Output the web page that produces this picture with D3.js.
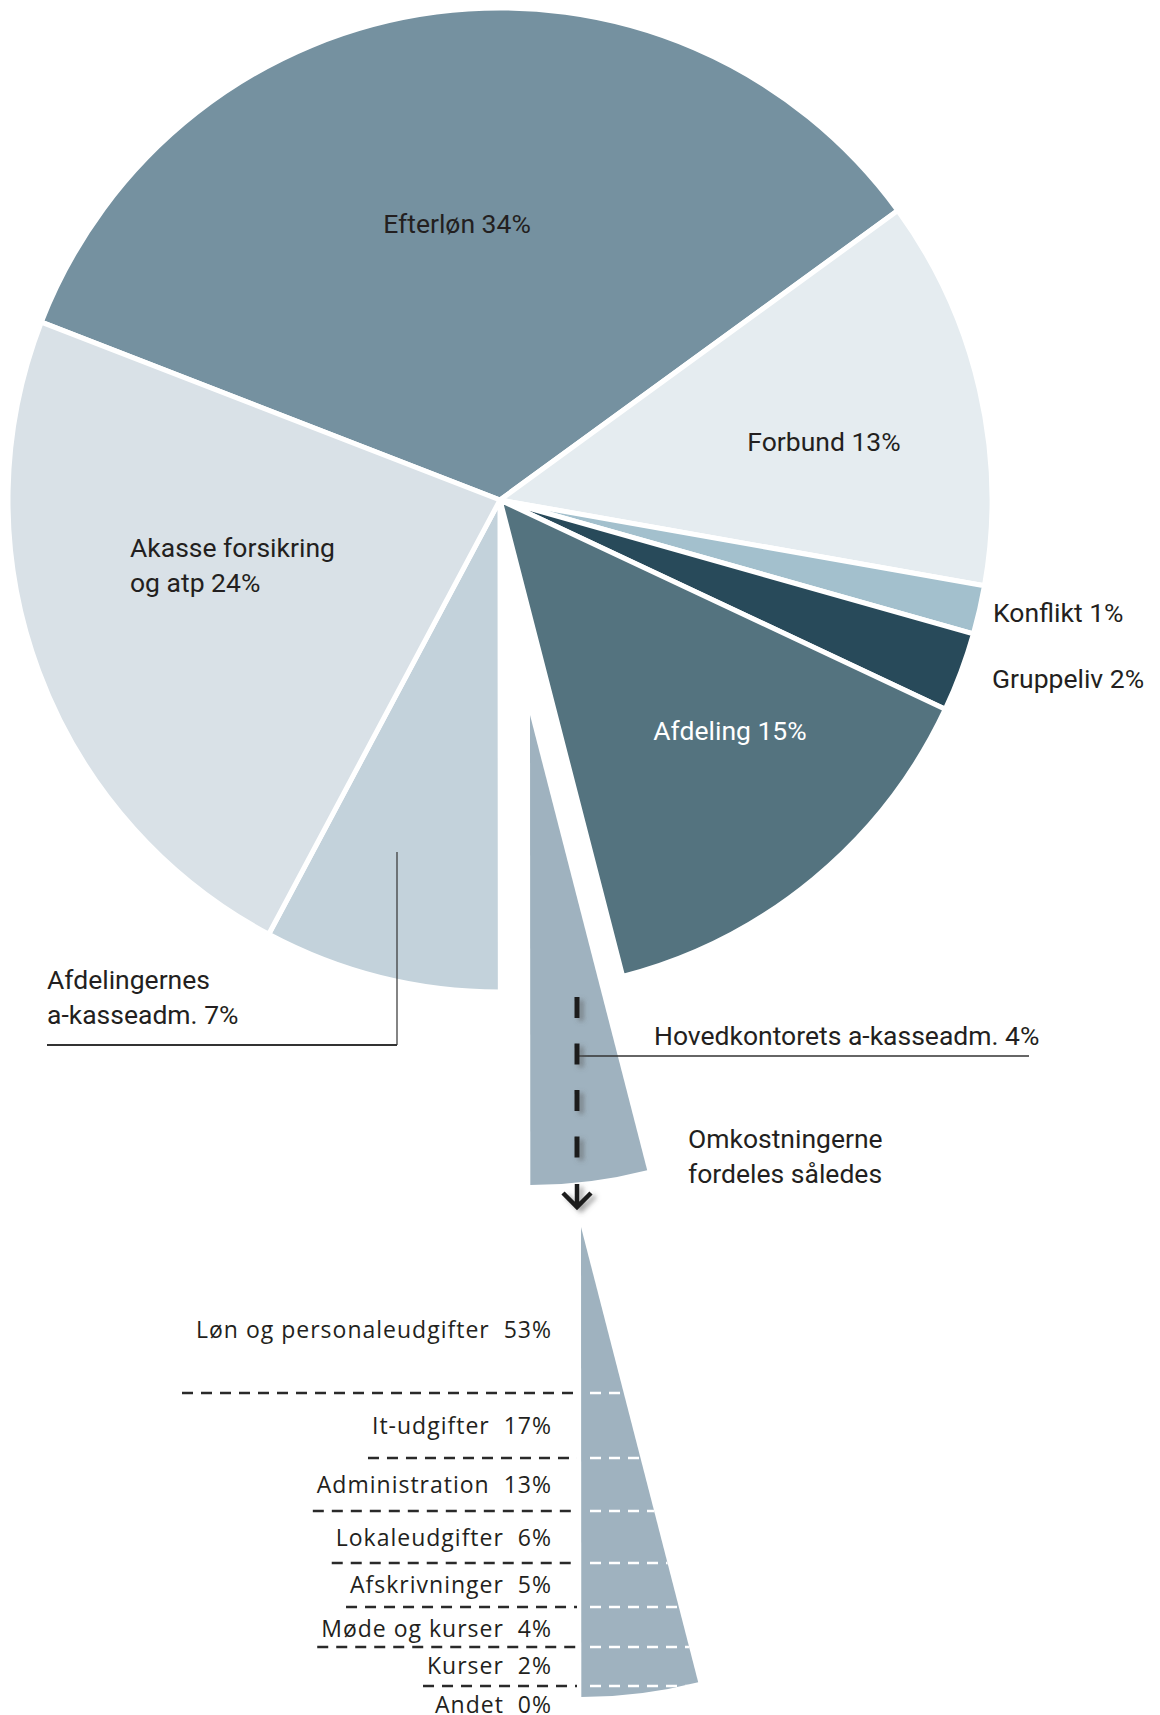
<!DOCTYPE html>
<html><head><meta charset="utf-8">
<script src="https://cdn.jsdelivr.net/npm/d3@7/dist/d3.min.js"></script>
<style>
body{margin:0;background:#fff}
svg{display:block}
.pl{font-family:Roboto,"DejaVu Sans Condensed",sans-serif;font-size:26.5px;fill:#231f20}
.sl{font-family:"Open Sans",sans-serif;font-size:23px;fill:#231f20;letter-spacing:1px;white-space:pre}
</style></head><body>
<script>
// ---- data ----
const categories = ["Efterløn","Forbund","Konflikt","Gruppeliv","Afdeling","Hovedkontorets a-kasseadm.","Afdelingernes a-kasseadm.","Akasse forsikring og atp"];
const labelPercents = [34,13,1,2,15,4,7,24];          // printed labels
const sliceValues = [34.1,12.8,1.6,2.6,14.0,4.0,7.8,23.1]; // slice sizes as drawn
const sliceColors = ["#7591a0","#e5ecf0","#a3c0cd","#284a5a","#54737f","#9fb2bf","#c3d2db","#d9e1e7"];

const subCategories = ["Løn og personaleudgifter","It-udgifter","Administration","Lokaleudgifter","Afskrivninger","Møde og kurser","Kurser","Andet"];
const subValues = [53,17,13,6,5,4,2,0];

// ---- layout ----
const W = 1160, H = 1715;
const cx = 500, cy = 500, R = 492, Rx = 470;
const startDeg = -68.8;
const explodedAt = [[530,715],[581,1227]];
const subBaselines = [1338,1434,1493,1546,1593,1637,1674,1713];
const subSeparators = [1393,1458,1511,1563,1607,1647,1686];
const sepLeftPad = [14,4,4,4,4,4,4];
const subRight = 552;

const pieLabels = [
  {i:0, lines:["Efterløn 34%"], x:457, y:233, anchor:"middle", fill:"#231f20"},
  {i:1, lines:["Forbund 13%"], x:824, y:451, anchor:"middle", fill:"#231f20"},
  {i:2, lines:["Konflikt 1%"], x:993, y:622, anchor:"start", fill:"#231f20"},
  {i:3, lines:["Gruppeliv 2%"], x:992, y:688, anchor:"start", fill:"#231f20"},
  {i:4, lines:["Afdeling 15%"], x:730, y:740, anchor:"middle", fill:"#ffffff"},
  {i:5, lines:["Hovedkontorets a-kasseadm. 4%"], x:654, y:1045, anchor:"start", fill:"#231f20"},
  {i:6, lines:["Afdelingernes","a-kasseadm. 7%"], x:47, y:989, anchor:"start", fill:"#231f20"},
  {i:7, lines:["Akasse forsikring","og atp 24%"], x:130, y:557, anchor:"start", fill:"#231f20"},
  {i:-1, lines:["Omkostningerne","fordeles således"], x:688, y:1148, anchor:"start", fill:"#231f20"}
];
const lineH = 35;

const svg = d3.select("body").append("svg").attr("width",W).attr("height",H);
const defs = svg.append("defs");
const f = defs.append("filter").attr("id","sh").attr("x","-200%").attr("y","-20%").attr("width","500%").attr("height","140%");
f.append("feDropShadow").attr("dx",4).attr("dy",3).attr("stdDeviation",2.5).attr("flood-color","#555").attr("flood-opacity",0.55);

const rad = d => d*Math.PI/180;
const pie = d3.pie().sort(null).value(d=>d).startAngle(rad(startDeg)).endAngle(rad(startDeg+360));
const arcs = pie(sliceValues);
const arc = d3.arc().innerRadius(0).outerRadius(R);
const arcX = d3.arc().innerRadius(0).outerRadius(Rx);
const HOV = 5;

// main pie
const g = svg.append("g").attr("transform",`translate(${cx},${cy})`);
g.selectAll("path").data(arcs.filter((d,i)=>i!==HOV)).join("path")
  .attr("d",arc)
  .attr("fill",d=>sliceColors[d.index])
  .attr("stroke","#fff").attr("stroke-width",5).attr("stroke-linejoin","round");

// exploded copies of the head-office slice
explodedAt.forEach(([x,y])=>{
  svg.append("path").attr("transform",`translate(${x},${y})`)
    .attr("d",arcX(arcs[HOV])).attr("fill",sliceColors[HOV]);
});
defs.append("clipPath").attr("id","wedge2").append("path")
  .attr("transform",`translate(${explodedAt[1][0]},${explodedAt[1][1]})`)
  .attr("d",arcX(arcs[HOV]));

// leader for Afdelingernes
svg.append("path").attr("d","M397,852V1045").attr("stroke","#333").attr("stroke-width",1.2).attr("fill","none");
svg.append("path").attr("d","M47,1045H397").attr("stroke","#333").attr("stroke-width",2).attr("fill","none");
// leader for Hovedkontorets
svg.append("path").attr("d","M578,1056H1029").attr("stroke","#333").attr("stroke-width",1.6).attr("fill","none");

// dashed arrow
const ar = svg.append("g").attr("filter","url(#sh)");
ar.append("line").attr("x1",577).attr("x2",577).attr("y1",997).attr("y2",1160)
  .attr("stroke","#1a1a1a").attr("stroke-width",5).attr("stroke-dasharray","21 25.5");
ar.append("path").attr("d","M577,1184V1207M563,1193L577,1207L591,1193")
  .attr("stroke","#1a1a1a").attr("stroke-width",4.5).attr("fill","none");

// pie labels
pieLabels.forEach(L=>{
  const t = svg.append("text").attr("class","pl").attr("x",L.x).attr("y",L.y)
    .attr("text-anchor",L.anchor).style("fill",L.fill);
  L.lines.forEach((s,j)=>t.append("tspan").attr("x",L.x).attr("y",L.y+j*lineH).text(s));
});

// sub-category labels and separators
subCategories.forEach((c,i)=>{
  const t = svg.append("text").attr("class","sl").attr("x",subRight).attr("y",subBaselines[i])
    .attr("text-anchor","end").text(`${c}  ${subValues[i]}%`);
  if(i < subSeparators.length){
    const w = t.node().getComputedTextLength();
    const y = subSeparators[i];
    svg.append("line").attr("x1",subRight-w-sepLeftPad[i]).attr("x2",577).attr("y1",y).attr("y2",y)
      .attr("stroke","#2a2a2a").attr("stroke-width",2.5).attr("stroke-dasharray","11 8");
    svg.append("line").attr("x1",590).attr("x2",760).attr("y1",y).attr("y2",y)
      .attr("clip-path","url(#wedge2)")
      .attr("stroke","#fff").attr("stroke-width",2.5).attr("stroke-dasharray","11 8");
  }
});
</script></body></html>
